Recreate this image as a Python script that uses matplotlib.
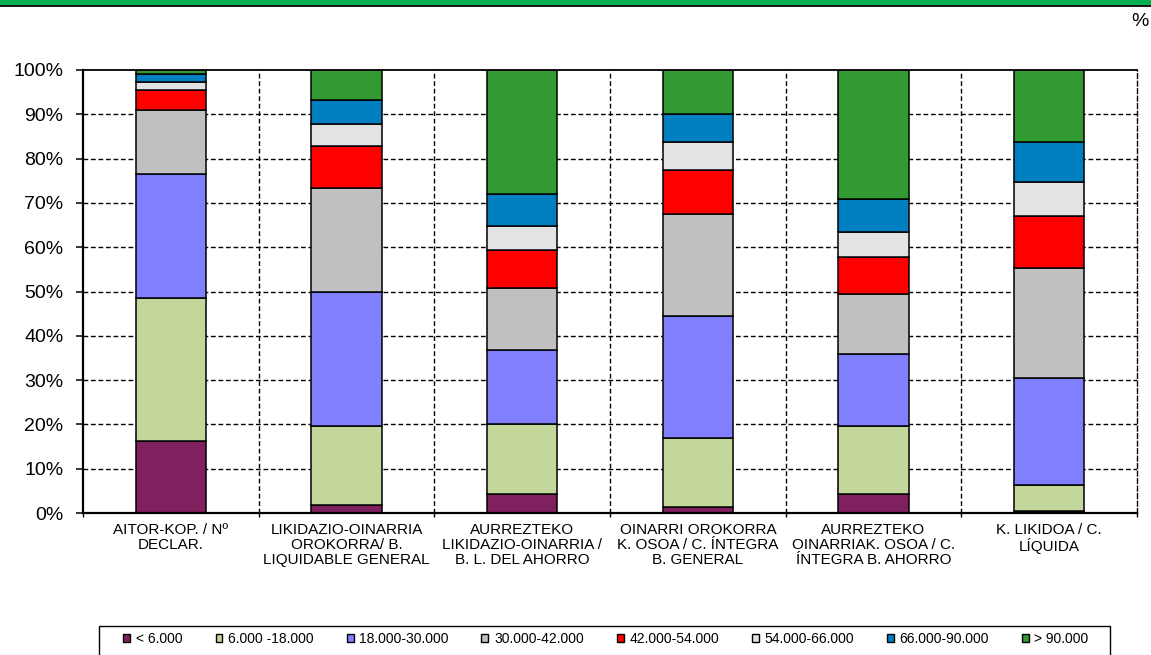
import matplotlib
matplotlib.use("Agg")
import matplotlib.pyplot as plt
from matplotlib.patches import Patch, Rectangle
from matplotlib.lines import Line2D
import numpy as np

plt.rcParams['font.family'] = ['Liberation Sans', 'DejaVu Sans']
plt.rcParams['lines.scale_dashes'] = False

categories = [
    "AITOR-KOP. / Nº\nDECLAR.",
    "LIKIDAZIO-OINARRIA\nOROKORRA/ B.\nLIQUIDABLE GENERAL",
    "AURREZTEKO\nLIKIDAZIO-OINARRIA /\nB. L. DEL AHORRO",
    "OINARRI OROKORRA\nK. OSOA / C. ÍNTEGRA\nB. GENERAL",
    "AURREZTEKO\nOINARRIAK. OSOA / C.\nÍNTEGRA B. AHORRO",
    "K. LIKIDOA / C.\nLÍQUIDA",
]

band_labels = ["< 6.000", "6.000 -18.000", "18.000-30.000", "30.000-42.000",
               "42.000-54.000", "54.000-66.000", "66.000-90.000", "> 90.000"]

lt6 = [16.2, 1.7, 4.3, 1.3, 4.3, 0.4]
b6_18 = [32.4, 18.0, 15.8, 15.7, 15.3, 5.9]
b18_30 = [28.0, 30.3, 16.7, 27.5, 16.3, 24.2]
b30_42 = [14.4, 23.4, 13.9, 22.9, 13.6, 24.8]
b42_54 = [4.5, 9.5, 8.6, 10.0, 8.4, 11.8]
b54_66 = [1.8, 5.0, 5.5, 6.3, 5.6, 7.7]
b66_90 = [1.8, 5.4, 7.2, 6.4, 7.3, 9.0]
gt90 = [0.9, 6.7, 28.0, 9.9, 29.2, 16.2]

series = [lt6, b6_18, b18_30, b30_42, b42_54, b54_66, b66_90, gt90]
colors = ["#80205F", "#C4D79B", "#8080FF", "#C0C0C0",
          "#FF0000", "#E3E3E3", "#0080C0", "#339933"]

W, H = 1151, 655
fig = plt.figure(figsize=(W / 100, H / 100), dpi=100)
ax = fig.add_axes([83 / W, 1 - 513 / H, (1137 - 83) / W, (513 - 70) / H])

x = np.arange(len(categories))
bottom = np.zeros(len(categories))
for vals, col, lab in zip(series, colors, band_labels):
    ax.bar(x, vals, width=0.4, bottom=bottom, color=col, edgecolor="black",
           linewidth=1.1, label=lab, zorder=3)
    bottom += np.array(vals)

ax.set_xlim(-0.5, len(categories) - 0.5)
ax.set_ylim(0, 100)
ax.set_yticks(np.arange(0, 101, 10))
ax.set_yticklabels([f"{v}%" for v in range(0, 101, 10)], fontsize=14)

# horizontal dashed grid
dash = (0, (3.4, 2.0))
for v in range(10, 100, 10):
    ax.axhline(v, color="black", linewidth=1.0, linestyle=dash, zorder=1)
# vertical dashed separators
for b in np.arange(0.5, len(categories) - 0.5, 1.0):
    ax.axvline(b, color="black", linewidth=1.0, linestyle=dash, zorder=1)

ax.set_xticks(np.arange(-0.5, len(categories) + 0.5, 1.0))
ax.set_xticklabels([])
ax.set_xticks(x, minor=True)
ax.set_xticklabels(categories, minor=True, fontsize=11, linespacing=1.1)
ax.tick_params(axis="x", which="major", length=3, width=1.0, direction="out")
ax.tick_params(axis="x", which="minor", length=0, pad=7)
ax.tick_params(axis="y", length=5, width=1.1, pad=9, direction="out")

ax.spines["left"].set_linewidth(1.6)
ax.spines["bottom"].set_linewidth(1.6)
ax.spines["top"].set_linewidth(1.3)
ax.spines["right"].set_linewidth(1.0)
ax.spines["right"].set_linestyle(dash)
for s in ax.spines.values():
    s.set_zorder(4)

# header band
fig.add_artist(Rectangle((0, 1 - 5 / H), 1, 5 / H, transform=fig.transFigure,
                         facecolor="#00B050", edgecolor="none"))
fig.add_artist(Line2D([0, 1], [1 - 5.8 / H, 1 - 5.8 / H], transform=fig.transFigure,
                      color="black", linewidth=1.3))
fig.text(1149 / W, 1 - 22 / H, "%", fontsize=14, ha="right", va="center")

# legend
handles = [Patch(facecolor=c, edgecolor="black", linewidth=1.0) for c in colors]
leg = fig.legend(handles, band_labels, loc="center", ncol=8,
                 bbox_to_anchor=(606 / W, 1 - 639 / H), frameon=False,
                 fontsize=10, handlelength=0.5, handleheight=0.5,
                 handletextpad=0.4, columnspacing=2.37, borderpad=0.0)
fig.add_artist(Rectangle((99 / W, 1 - 665 / H), (1110 - 99) / W, (665 - 626) / H,
                         transform=fig.transFigure, facecolor="none",
                         edgecolor="black", linewidth=1.0))

fig.savefig("out.png", dpi=100)
